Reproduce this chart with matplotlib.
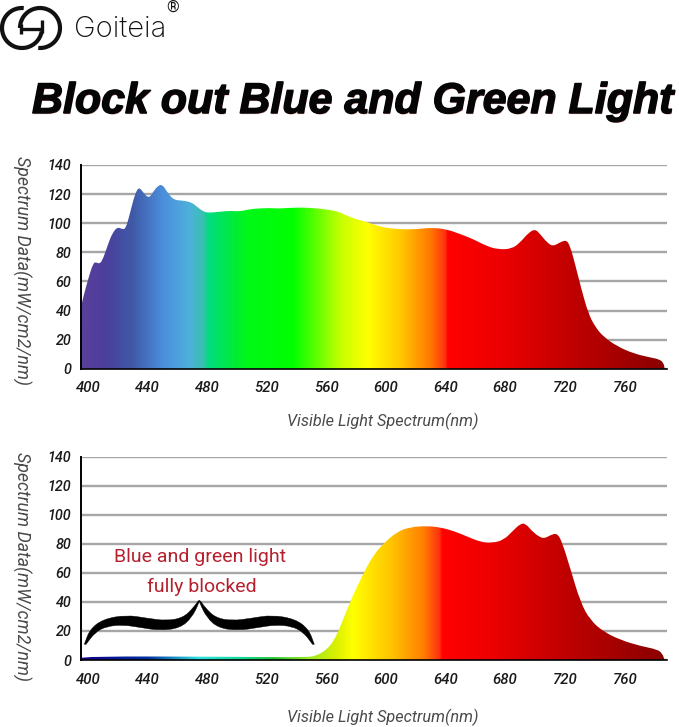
import numpy as np
import matplotlib
matplotlib.use("Agg")
import matplotlib.pyplot as plt
import matplotlib.patheffects as pe
from matplotlib.colors import LinearSegmentedColormap
from matplotlib.patches import Arc, PathPatch
from matplotlib.path import Path

plt.rcParams['font.family'] = ['Roboto', 'DejaVu Sans']

W, H = 679, 727

y_ticks = [0, 20, 40, 60, 80, 100, 120, 140]
x_ticks = [400, 440, 480, 520, 560, 600, 640, 680, 720, 760]

# unfiltered spectrum
nm_top = [395.3, 396.9, 400.2, 403.6, 405.8, 408, 410.3, 413.6, 416.3, 419.7, 422.6, 425.3,
          428.2, 431.5, 434.2, 437.1, 440.9, 443.8, 447.2, 450, 452.8, 457.2, 464, 469.6,
          473, 477.4, 480.8, 485.2, 495.3, 502, 508.7, 522, 527.7, 537.8, 546.8, 555.7,
          564.6, 569, 578, 587, 598, 609.4, 619.5, 630.7, 640.8, 649.7, 658.6, 667.5, 675,
          684.3, 689.9, 695.5, 700, 703.4, 707.8, 712, 716.7, 721, 723.5, 726.8, 731.3,
          735.8, 740.3, 745.9, 754.8, 765.9, 777, 783.8, 786.4, 787]
val_top = [42.6, 49.5, 62, 73, 73, 72, 76, 86, 93, 97.4, 96, 96,
           107, 120, 125, 121, 117, 121.7, 126, 126.5, 122, 116, 115.5, 114.3,
           111.4, 108, 107.2, 107.5, 108.6, 108, 109.8, 110.5, 110, 110.7, 110.7, 110,
           108.8, 107.5, 103.3, 100.8, 97, 95.8, 95.8, 97, 95.8, 92.6, 89, 84.3, 82,
           82.3, 86.6, 93.3, 96, 92.6, 87, 84, 86.8, 88.5, 84.5, 72.4, 54,
           38, 28.9, 22, 15.6, 10.5, 7.8, 6.4, 3.7, 0]

# spectrum behind the lens
nm_bot = [395.3, 500, 546.8, 553.5, 560, 564.6, 569, 575.8, 584.8, 591.6, 598.4, 607.5,
          616.6, 627.7, 636.6, 645.5, 654.6, 663.5, 671.3, 679, 685.7, 690.2, 693.6, 698,
          702.5, 706.3, 710.3, 714.8, 718.1, 723.7, 730.4, 737, 746, 757.4, 770.8, 782,
          785.4, 787]
val_bot = [2.6, 2.2, 1.8, 3, 7, 12.6, 21.8, 40, 59.7, 72.3, 80.3, 88.4,
           91.6, 92.3, 91.3, 88.8, 85, 81.2, 80.6, 82.6, 89.5, 93.8, 94, 88.8,
           85, 83.6, 86, 87.4, 81.5, 63, 40, 27.5, 19.5, 13.8, 9.6, 7.3,
           4.6, 0]

stops_top = [(395.3, '#5a409c'), (412, '#4b3f9b'), (430, '#3f5aa8'), (450, '#4b8edb'),
             (468, '#4fb0dc'), (477, '#38c0b0'), (481, '#00dc80'), (500, '#00ee30'),
             (507, '#00f818'), (538, '#00ff00'), (570, '#c8ff00'), (588, '#ffff00'),
             (610, '#ffc800'), (630, '#ff7800'), (640, '#ff3010'), (641.5, '#ff0000'),
             (675, '#ee0000'), (725, '#c00000'), (787, '#8a0000'), (788.6, '#8a0000')]
stops_bot = [(395.3, '#10008c'), (440, '#0030a0'), (474, '#30e0e0'), (505, '#10d890'),
             (525, '#20c830'), (549, '#a0e820'), (566, '#d8f000'),
             (578, '#ffff00'), (605, '#ffc000'), (625, '#ff8000'), (636, '#ff3010'),
             (638, '#ff0000'), (670, '#ee0000'), (720, '#c00000'), (787, '#8a0000'),
             (788.6, '#8a0000')]

brace_upper = [(397.5, 10.8), (401.3, 21.2), (410.3, 28.2), (426, 31), (439.4, 28.8),
               (452.8, 27), (464, 29.2), (470.7, 36), (474.7, 41.8)]
brace_lower = [(474.7, 39.7), (469.6, 29), (461.7, 22), (448.3, 20.3), (434.9, 22.4),
               (423.7, 24.2), (412.5, 23.2), (404.7, 19), (398.7, 10.8)]


def make_cmap(stops):
    lo, hi = stops[0][0], stops[-1][0]
    return LinearSegmentedColormap.from_list(
        'spec', [((nm - lo) / (hi - lo), c) for nm, c in stops], N=1024)


def smooth_path(pts):
    # closed outline, quadratic curves through the edge midpoints
    pts = np.array(pts, dtype=float)
    mids = (pts[:-1] + pts[1:]) / 2
    verts = [pts[0], mids[0]]
    codes = [Path.MOVETO, Path.LINETO]
    for p, m in zip(pts[1:-1], mids[1:]):
        verts += [p, m]
        codes += [Path.CURVE3, Path.CURVE3]
    verts += [pts[-1], pts[0]]
    codes += [Path.LINETO, Path.CLOSEPOLY]
    return Path(verts, codes)


def panel(top_px, bottom_px, nm, val, stops, xlab_off, ylab_shift):
    height = bottom_px - top_px
    ax = fig.add_axes([81 / W, 1 - bottom_px / H, (667 - 81) / W, height / H])
    ax.set_yticks(y_ticks)
    ax.set_xticks(x_ticks)
    ax.grid(axis='y', color='#a6a6a6', lw=1.7)
    ax.set_axisbelow(True)
    for s in ['top', 'right']:
        ax.spines[s].set_visible(False)
    ax.spines['left'].set_linewidth(1.4)
    ax.spines['bottom'].set_linewidth(1.2)
    ax.tick_params(axis='x', length=0, labelsize=10.8, pad=9)
    ax.tick_params(axis='y', length=0, labelsize=10.4, pad=7)
    for t in ax.get_xticklabels() + ax.get_yticklabels():
        t.set_fontstyle('italic')
        t.set_fontweight('medium')
        t.set_color('#1a1a1a')

    grad = np.linspace(0, 1, 1024).reshape(1, -1)
    im = ax.imshow(grad, extent=[stops[0][0], stops[-1][0], 0, 140], aspect='auto',
                   cmap=make_cmap(stops), zorder=2, interpolation='bilinear')
    outline = [(nm[0], 0)] + list(zip(nm, val))
    im.set_clip_path(smooth_path(outline), ax.transData)
    ax.set_xlim(395.3, 788.6)
    ax.set_ylim(0, 140)
    ax.set_xlabel('Visible Light Spectrum(nm)', fontsize=11.7, style='italic', color='#4a4a4a')
    ax.xaxis.set_label_coords((383 - 81) / (667 - 81), -xlab_off / height)
    ax.set_ylabel('Spectrum Data(mW/cm2/nm)', fontsize=12.8, style='italic', color='#4a4a4a',
                  rotation=-90, va='center', ha='center')
    ax.yaxis.set_label_coords(-(81 - 22) / (667 - 81), 0.5 - ylab_shift / height)
    return ax


fig = plt.figure(figsize=(W / 100, H / 100), dpi=100, facecolor='white')

page = fig.add_axes([0, 0, 1, 1])
page.set_xlim(0, W)
page.set_ylim(H, 0)
page.axis('off')

# logo: two interlocked rings, joined by an H-shaped bar (y axis is flipped here)
ink = '#111111'
page.add_patch(Arc((22, 28), 40, 40, theta1=10, theta2=275, lw=3.0, color=ink))
page.add_patch(Arc((40, 28), 40, 40, theta1=180, theta2=455, lw=3.0, color=ink))
page.plot([20, 43], [28.5, 28.5], color=ink, lw=2.4, solid_capstyle='butt')
page.plot([20.5, 20.5], [24, 34], color=ink, lw=2.4, solid_capstyle='butt')
page.plot([41.5, 41.5], [20, 33], color=ink, lw=2.4, solid_capstyle='butt')
page.text(74, 37, 'Goiteia', family='Inter', fontsize=21, fontweight='light', color=ink, va='baseline')
page.text(173, 7.5, '®', fontsize=11.5, color=ink, ha='center', va='center')

page.text(32, 113, 'Block out Blue and Green Light', family='Liberation Sans', fontsize=30.9,
          fontweight='bold', style='italic', color='#050505', va='baseline',
          path_effects=[pe.withSimplePatchShadow(offset=(0.5, -0.8), shadow_rgbFace='#b03030', alpha=0.5),
                        pe.withStroke(linewidth=1.0, foreground='#050505')])

ax1 = panel(165, 368.7, nm_top, val_top, stops_top, 44, 4)
ax2 = panel(456.7, 660, nm_bot, val_bot, stops_bot, 49, 8)

ax2.text(475.2, 71, 'Blue and green light', color='#b5202e', fontsize=14, ha='center', va='center', zorder=5)
ax2.text(476.2, 50.5, 'fully blocked', color='#b5202e', fontsize=14, ha='center', va='center', zorder=5)

# curly bracket over the blocked band
left_half = brace_upper + brace_lower
right_half = [(2 * 474.7 - x, y) for x, y in left_half]
ax2.add_patch(PathPatch(smooth_path(left_half), fc='black', ec='black', lw=0.3, zorder=5))
ax2.add_patch(PathPatch(smooth_path(right_half), fc='black', ec='black', lw=0.3, zorder=5))

fig.savefig('out.png', dpi=100, facecolor='white')
